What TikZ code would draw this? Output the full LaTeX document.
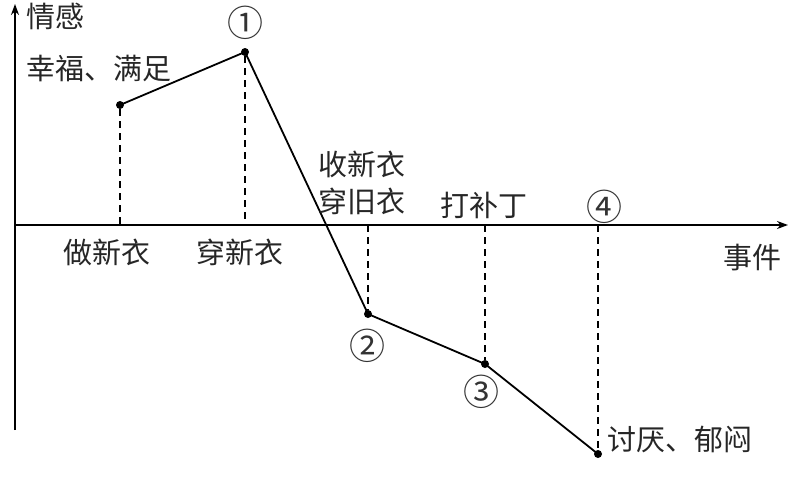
\documentclass[tikz,border=0pt]{standalone}
\usepackage{fontspec}
\setmainfont{Noto Sans CJK SC}
\usetikzlibrary{arrows.meta}
\begin{document}
\begin{tikzpicture}[x=1pt,y=-1pt,
  axis/.style={line width=1.8pt,-{Stealth[length=11pt,width=8pt]}},
  curve/.style={line width=1.8pt},
  guide/.style={line width=1.4pt,dash pattern=on 7pt off 5pt},
  dot/.style={circle,fill=black,inner sep=0pt,minimum size=8pt},
  lbl/.style={font=\fontsize{29}{32}\selectfont,inner sep=0pt,text=black!85},
  num/.style={font=\fontsize{36}{38}\selectfont,inner sep=0pt,text=black!80}]
\useasboundingbox (0,0) rectangle (793,479);
% axes
\coordinate (O) at (15,225);
\coordinate (ytop) at (15,4);
\coordinate (ybot) at (15,430);
\coordinate (xend) at (788,225);
\draw[axis] (ybot) -- (ytop);
\draw[axis] (O) -- (xend);
% points
\node[dot] (p0) at (120,105) {};
\node[dot] (p1) at (245,52) {};
\node[dot] (p2) at (368,314) {};
\node[dot] (p3) at (485,364) {};
\node[dot] (p4) at (598,454) {};
\coordinate (a0) at (120,225);
\coordinate (a1) at (245,225);
\coordinate (a2) at (368,225);
\coordinate (a3) at (485,225);
\coordinate (a4) at (598,225);
\draw[curve] (p0.center) -- (p1.center) -- (p2.center) -- (p3.center) -- (p4.center);
\draw[guide] (p0) -- (a0);
\draw[guide] (p1) -- (a1);
\draw[guide] (a2) -- (p2);
\draw[guide] (a3) -- (p3);
\draw[guide] (a4) -- (p4);
% labels
\node[lbl] (t1) at (56,16) {情感};
\node[lbl] (t2) at (99,68) {幸福、满足};
\node[num] (n1) at (245,23) {①};
\node[lbl] (t3) at (107,252) {做新衣};
\node[lbl] (t4) at (240,252) {穿新衣};
\node[lbl] (t5) at (362,164) {收新衣};
\node[lbl] (t6) at (362,201) {穿旧衣};
\node[lbl] (t7) at (484,205) {打补丁};
\node[num] (n4) at (604,207) {④};
\node[lbl] (t8) at (752,258) {事件};
\node[num] (n2) at (367,346) {②};
\node[num] (n3) at (481,392) {③};
\node[lbl] (t9) at (680,439) {讨厌、郁闷};
\end{tikzpicture}
\end{document}
